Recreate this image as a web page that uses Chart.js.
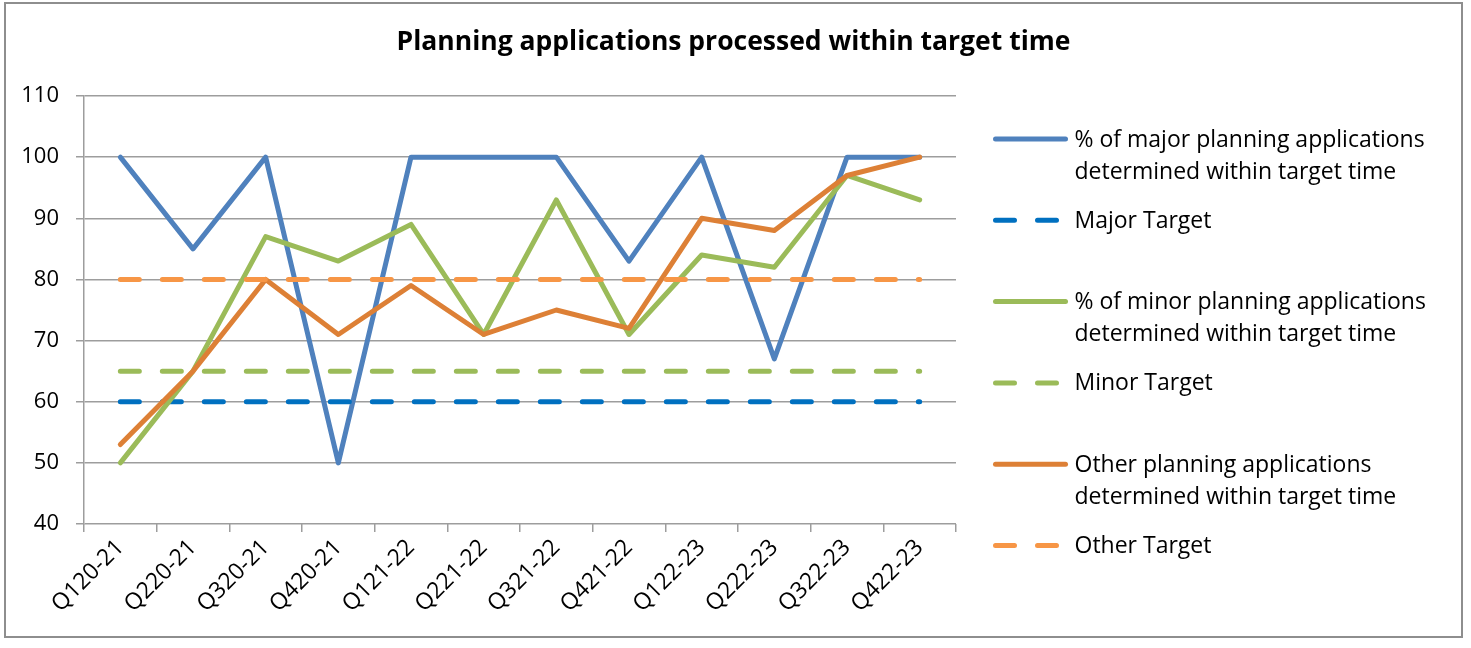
<!DOCTYPE html>
<html>
<head>
<meta charset="utf-8">
<script src="https://cdn.jsdelivr.net/npm/chart.js@4.4.0/dist/chart.umd.min.js"></script>
<style>
    body { margin: 0; background: #fff; }
    #wrap { width: 1471px; height: 648px; }
</style>
</head>
<body>
<div id="wrap"><canvas id="planningChart" width="1471" height="648"></canvas></div>
<script>
const quarters = ['Q120-21', 'Q220-21', 'Q320-21', 'Q420-21', 'Q121-22', 'Q221-22',
    'Q321-22', 'Q421-22', 'Q122-23', 'Q222-23', 'Q322-23', 'Q422-23'];
const majorPct = [100, 85, 100, 50, 100, 100, 100, 83, 100, 67, 100, 100];
const majorTarget = [60, 60, 60, 60, 60, 60, 60, 60, 60, 60, 60, 60];
const minorPct = [50, 65, 87, 83, 89, 71, 93, 71, 84, 82, 97, 93];
const minorTarget = [65, 65, 65, 65, 65, 65, 65, 65, 65, 65, 65, 65];
const otherPct = [53, 65, 80, 71, 79, 71, 75, 72, 90, 88, 97, 100];
const otherTarget = [80, 80, 80, 80, 80, 80, 80, 80, 80, 80, 80, 80];
const yTicks = [40, 50, 60, 70, 80, 90, 100, 110];

const FONT = "'Open Sans', sans-serif";
const chartTitle = 'Planning applications processed within target time';

function lineSet(label, data, color, dashed, order) {
    return {
        label: label,
        data: data,
        borderColor: color,
        backgroundColor: color,
        borderWidth: 5,
        borderDash: dashed ? [19, 23] : [],
        borderCapStyle: 'round',
        borderJoinStyle: 'round',
        pointRadius: 0,
        pointHoverRadius: 0,
        tension: 0,
        fill: false,
        order: order,
        legendLines: Array.isArray(label) ? label : [label],
        dashed: dashed
    };
}

const datasets = [
    lineSet(['% of major planning applications', 'determined within target time'], majorPct, '#4F81BD', false, 6),
    lineSet('Major Target', majorTarget, '#0070C0', true, 5),
    lineSet(['% of minor planning applications', 'determined within target time'], minorPct, '#9BBB59', false, 4),
    lineSet('Minor Target', minorTarget, '#9BBB59', true, 3),
    lineSet(['Other planning applications', 'determined within target time'], otherPct, '#DD8036', false, 2),
    lineSet('Other Target', otherTarget, '#F79646', true, 1)
];

// frame, title and a two-line legend drawn on the same canvas
const decorPlugin = {
    id: 'decor',
    beforeDraw(chart) {
        const ctx = chart.ctx;
        ctx.save();
        ctx.fillStyle = '#fff';
        ctx.fillRect(0, 0, chart.width, chart.height);
        ctx.strokeStyle = '#8e8e8e';
        ctx.lineWidth = 2;
        ctx.strokeRect(5, 3, 1457, 634);
        ctx.restore();
    },
    afterDraw(chart) {
        const ctx = chart.ctx;
        const area = chart.chartArea;
        ctx.save();
        ctx.fillStyle = '#000';
        ctx.font = 'bold 26.5px ' + FONT;
        ctx.textAlign = 'center';
        ctx.textBaseline = 'middle';
        ctx.fillText(chartTitle, 733.5, 42);

        ctx.font = '23px ' + FONT;
        ctx.textAlign = 'left';
        const x0 = area.right + 39.5;
        chart.data.datasets.forEach(function (ds, i) {
            const y = 139 + i * 81.3;
            ctx.strokeStyle = ds.borderColor;
            ctx.lineWidth = 5;
            ctx.lineCap = 'round';
            ctx.setLineDash(ds.dashed ? [19, 23] : []);
            ctx.beginPath();
            ctx.moveTo(x0, y);
            ctx.lineTo(ds.dashed ? x0 + 61.5 : x0 + 70, y);
            ctx.stroke();
            ctx.setLineDash([]);
            ds.legendLines.forEach(function (t, k) {
                ctx.fillText(t, x0 + 79, y + k * 32 + 1);
            });
        });
        ctx.restore();
    }
};

const ctx = document.getElementById('planningChart').getContext('2d');
new Chart(ctx, {
    type: 'line',
    data: { labels: quarters, datasets: datasets },
    options: {
        responsive: false,
        animation: false,
        layout: { padding: { left: 0, top: 96, right: 515, bottom: 0 } },
        plugins: {
            legend: { display: false },
            title: { display: false },
            tooltip: { enabled: false }
        },
        scales: {
            x: {
                offset: true,
                grid: {
                    offset: true,
                    drawOnChartArea: false,
                    drawTicks: true,
                    tickLength: 8,
                    color: '#9d9d9d',
                    lineWidth: 1.5
                },
                border: { display: false },
                ticks: {
                    color: '#000',
                    font: { family: FONT, size: 23 },
                    minRotation: 45,
                    maxRotation: 45,
                    padding: 2,
                    autoSkip: false
                },
                afterFit(scale) { scale.height = 124; }
            },
            y: {
                min: yTicks[0],
                max: yTicks[yTicks.length - 1],
                afterBuildTicks(scale) { scale.ticks = yTicks.map(v => ({ value: v })); },
                grid: {
                    color: '#9d9d9d',
                    lineWidth: 1.5,
                    tickLength: 8
                },
                border: { display: true, color: '#9d9d9d', width: 1.5 },
                ticks: {
                    color: '#000',
                    font: { family: FONT, size: 22 },
                    padding: 17
                },
                afterFit(scale) { scale.width = 84; }
            }
        }
    },
    plugins: [decorPlugin]
});
</script>
</body>
</html>
